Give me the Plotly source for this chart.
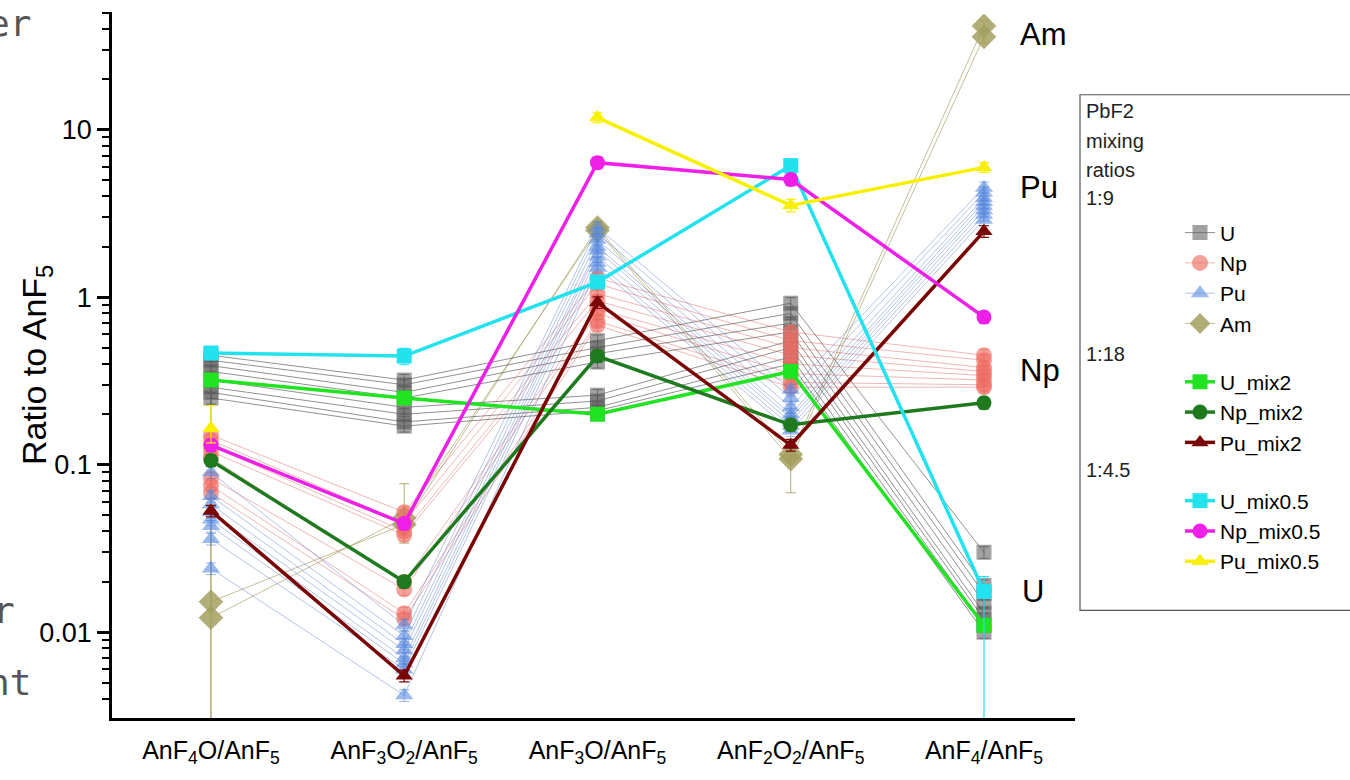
import plotly.graph_objects as go

categories = [
    "AnF<sub>4</sub>O/AnF<sub>5</sub>",
    "AnF<sub>3</sub>O<sub>2</sub>/AnF<sub>5</sub>",
    "AnF<sub>3</sub>O/AnF<sub>5</sub>",
    "AnF<sub>2</sub>O<sub>2</sub>/AnF<sub>5</sub>",
    "AnF<sub>4</sub>/AnF<sub>5</sub>",
]

# PbF2 1:9 replicate runs
U_runs = [
    [0.45, 0.32, 0.55, 0.92, 0.030],
    [0.42, 0.30, 0.50, 0.80, 0.019],
    [0.39, 0.27, 0.46, 0.70, 0.017],
    [0.36, 0.25, 0.41, 0.62, 0.015],
    [0.32, 0.22, 0.26, 0.55, 0.013],
    [0.29, 0.20, 0.24, 0.50, 0.012],
    [0.27, 0.18, 0.22, 0.44, 0.011],
    [0.25, 0.17, 0.21, 0.40, 0.010],
]
Np_runs = [
    [0.15, 0.052, 1.30, 0.62, 0.45],
    [0.14, 0.045, 1.20, 0.55, 0.42],
    [0.13, 0.040, 1.05, 0.50, 0.38],
    [0.12, 0.038, 0.95, 0.45, 0.36],
    [0.11, 0.020, 0.85, 0.40, 0.34],
    [0.083, 0.018, 0.80, 0.35, 0.32],
    [0.075, 0.013, 0.72, 0.31, 0.30],
    [0.068, 0.012, 0.68, 0.29, 0.29],
]
Pu_runs = [
    [0.090, 0.011, 2.6, 0.28, 4.5],
    [0.065, 0.0095, 2.4, 0.25, 4.2],
    [0.058, 0.0085, 2.2, 0.22, 3.9],
    [0.052, 0.0078, 2.0, 0.20, 3.7],
    [0.047, 0.0070, 1.9, 0.19, 3.5],
    [0.043, 0.0065, 1.75, 0.18, 3.3],
    [0.036, 0.0060, 1.6, 0.17, 3.1],
    [0.024, 0.0042, 1.5, 0.16, 2.9],
]
Am_runs = [
    [0.0152, 0.044, 2.6, 0.115, 41.6],
    [0.0122, 0.048, 2.5, 0.108, 35.8],
]
Am_err_plus = [
    [0.30, 0.010, 0.2, 0.010, 3.0],
    [0.30, 0.029, 0.2, 0.020, 3.0],
]
Am_err_minus = [
    [0.0151, 0.010, 0.2, 0.010, 3.0],
    [0.0121, 0.010, 0.2, 0.040, 3.0],
]

# PbF2 1:18
U_mix2 = [0.32, 0.25, 0.20, 0.36, 0.011]
Np_mix2 = [0.106, 0.020, 0.445, 0.173, 0.234]
Pu_mix2 = [0.053, 0.0055, 0.93, 0.131, 2.47]

# PbF2 1:4.5
U_mix05 = [0.464, 0.445, 1.23, 6.1, 0.0175]
U_mix05_err_plus = [0.04, 0.05, 0.1, 0.5, 0.004]
U_mix05_err_minus = [0.04, 0.05, 0.1, 0.5, 0.0174]
Np_mix05 = [0.131, 0.0445, 6.35, 5.04, 0.76]
Pu_mix05 = [0.165, None, 11.8, 3.53, 5.95]
Pu_mix05_err_plus = [0.06, None, 0.8, 0.3, 0.4]
Pu_mix05_err_minus = [0.03, None, 0.8, 0.3, 0.4]

FONT = "Arial, Liberation Sans, sans-serif"
L, R, T, B = 112, 275, 12, 60
W, H = 1350, 780
PW, PH = W - L - R, H - T - B


def px_x(p):
    return (p - L) / PW


def px_y(p):
    return (H - B - p) / PH


fig = go.Figure()

# Am drawn first so that it sits underneath the other 1:9 markers
for i, run in enumerate(Am_runs):
    fig.add_trace(go.Scatter(
        x=categories, y=run, name="Am", mode="lines+markers",
        legendgroup="g1", showlegend=(i == 0), legendrank=4,
        line=dict(color="rgba(160,155,90,0.8)", width=0.8),
        marker=dict(symbol="diamond", size=19, color="rgba(165,160,95,0.85)", line=dict(width=0)),
        error_y=dict(type="data", symmetric=False, array=Am_err_plus[i],
                     arrayminus=Am_err_minus[i], color="rgba(160,155,90,0.8)",
                     thickness=1, width=5),
    ))

thin_styles = [
    ("U", U_runs, "square", 15, "rgba(100,100,100,0.6)", "rgba(70,70,70,0.75)", 1),
    ("Np", Np_runs, "circle", 16, "rgba(240,110,100,0.65)", "rgba(220,90,90,0.55)", 2),
    ("Pu", Pu_runs, "triangle-up", 16, "rgba(90,140,225,0.6)", "rgba(80,120,200,0.55)", 3),
]
for name, runs, sym, size, mcol, lcol, rank in thin_styles:
    for i, run in enumerate(runs):
        fig.add_trace(go.Scatter(
            x=categories, y=run, name=name, mode="lines+markers",
            legendgroup="g1", showlegend=(i == 0), legendrank=rank,
            line=dict(color=lcol, width=0.8),
            marker=dict(symbol=sym, size=size, color=mcol, line=dict(width=0)),
            error_y=dict(type="percent", value=8, color=lcol, thickness=1, width=5),
        ))

thick = [
    ("U_mix2", U_mix2, "square", "#22e322", "g2", None),
    ("Np_mix2", Np_mix2, "circle", "#1f7a1f", "g2", None),
    ("Pu_mix2", Pu_mix2, "triangle-up", "#7a0505", "g2", None),
    ("U_mix0.5", U_mix05, "square", "#22e2ee", "g3", (U_mix05_err_plus, U_mix05_err_minus)),
    ("Np_mix0.5", Np_mix05, "circle", "#ee1fe6", "g3", None),
    ("Pu_mix0.5", Pu_mix05, "triangle-up", "#f7f000", "g3", (Pu_mix05_err_plus, Pu_mix05_err_minus)),
]
for k, (name, vals, sym, col, grp, err) in enumerate(thick):
    if err is None:
        ey = dict(type="percent", value=8, color=col, thickness=1.2, width=5)
    else:
        ey = dict(type="data", symmetric=False, array=err[0], arrayminus=err[1],
                  color=col, thickness=1.2, width=5)
    fig.add_trace(go.Scatter(
        x=categories, y=vals, name=name, mode="lines+markers",
        legendgroup=grp, legendrank=10 + k, line=dict(color=col, width=3.5),
        marker=dict(symbol=sym, size=15, color=col, line=dict(width=0)),
        error_y=ey, connectgaps=False,
    ))

annotations = []
# element labels at the right
for txt, yp, xp in [("Am", 35, 1018), ("Pu", 188, 1018), ("Np", 372, 1018), ("U", 593, 1020)]:
    annotations.append(dict(text=txt, x=px_x(xp), y=px_y(yp), xref="paper", yref="paper",
                            xanchor="left", yanchor="middle", showarrow=False,
                            font=dict(family=FONT, size=31, color="black")))
# legend box texts
for txt, yp in [("PbF2", 111), ("mixing", 141), ("ratios", 170), ("1:9", 199),
                ("1:18", 355), ("1:4.5", 471)]:
    annotations.append(dict(text=txt, x=px_x(1084), y=px_y(yp), xref="paper", yref="paper",
                            xanchor="left", yanchor="middle", showarrow=False,
                            font=dict(family=FONT, size=20, color="#222")))
# y-axis title
annotations.append(dict(text="Ratio to AnF<sub>5</sub>", x=px_x(36), y=px_y(366),
                        xref="paper", yref="paper", textangle=-90, showarrow=False,
                        xanchor="center", yanchor="middle",
                        font=dict(family=FONT, size=34, color="black")))
# cut-off text from the surrounding page
for txt, xp, yp in [("er", -14, 24), ("r", -9, 612), ("nt", -14, 684)]:
    annotations.append(dict(text=txt, x=px_x(xp), y=px_y(yp), xref="paper", yref="paper",
                            xanchor="left", yanchor="middle", showarrow=False,
                            font=dict(family="DejaVu Sans Mono", size=36, color="#555")))

fig.update_layout(
    width=W, height=H,
    margin=dict(l=L, r=R, t=T, b=B),
    plot_bgcolor="white", paper_bgcolor="white",
    font=dict(family=FONT, color="black"),
    showlegend=True,
    legend=dict(x=px_x(1180), y=px_y(213), xanchor="left", yanchor="top",
                traceorder="grouped", tracegroupgap=28, bgcolor="rgba(0,0,0,0)",
                borderwidth=0, font=dict(family=FONT, size=21, color="black")),
    xaxis=dict(type="category", range=[-0.512, 4.471], showgrid=False, zeroline=False,
               showline=True, linecolor="black", linewidth=2.5,
               ticks="outside", ticklen=8, tickcolor="rgba(0,0,0,0)",
               tickfont=dict(family=FONT, size=25, color="black")),
    yaxis=dict(type="log", range=[-2.512, 1.702], showgrid=False, zeroline=False,
               showline=True, linecolor="black", linewidth=2.5,
               ticks="outside", ticklen=12, tickwidth=2.5, tickcolor="black",
               tickvals=[0.01, 0.1, 1, 10], ticktext=["0.01", "0.1", "1", "10"],
               tickfont=dict(family=FONT, size=27, color="black"),
               minor=dict(ticks="outside", ticklen=7, tickwidth=2, tickcolor="black",
                          dtick="D1", showgrid=False)),
    annotations=annotations,
    shapes=[dict(type="rect", xref="paper", yref="paper", x0=px_x(1080), x1=px_x(1365),
                 y0=px_y(612), y1=px_y(95), line=dict(color="#555", width=1.2))],
)

fig.write_html("out.html", config={"displayModeBar": False},
               post_script="document.body.style.margin='0px';document.body.style.overflow='hidden';")
